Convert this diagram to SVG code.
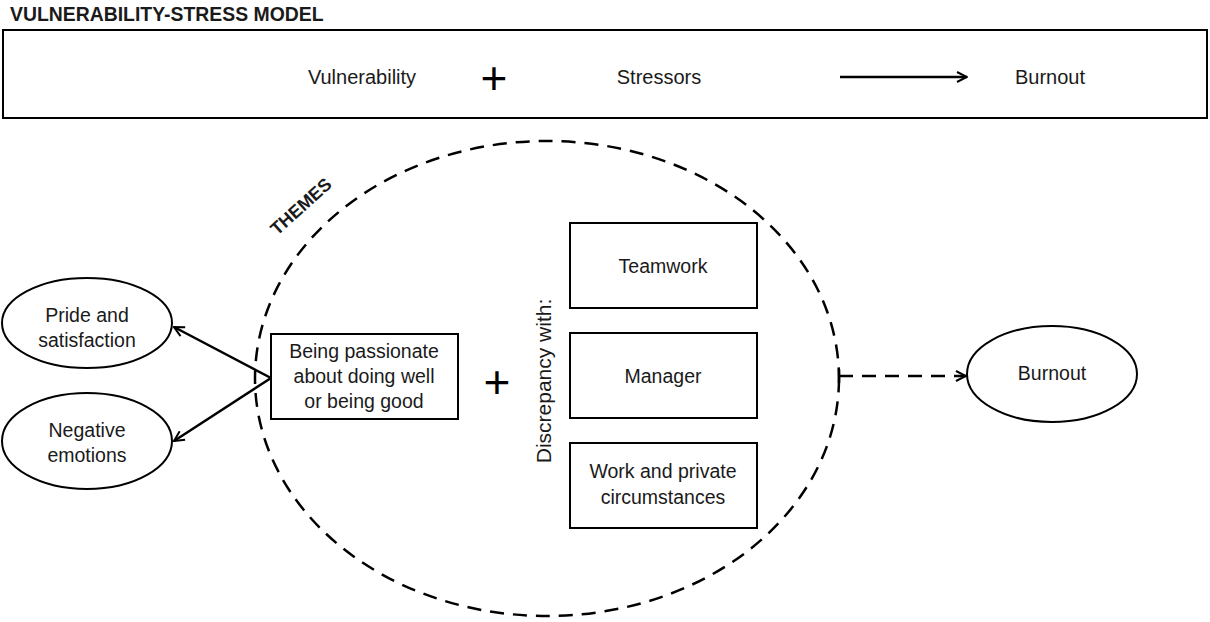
<svg xmlns="http://www.w3.org/2000/svg" width="1210" height="622" viewBox="0 0 1210 622">
  <style>
    text { font-family: "Liberation Sans", Arial, sans-serif; fill: #1a1a1a; }
    .t { font-size: 19.5px; text-anchor: middle; }
    .top { font-size: 20px; text-anchor: middle; }
    .title { font-size: 19.4px; font-weight: bold; }
    .themes { font-size: 18px; font-weight: bold; text-anchor: middle; }
    .vert { font-size: 21px; text-anchor: middle; }
    .plus { font-size: 46px; text-anchor: middle; fill: #000; }
    .box { fill: #fff; stroke: #000; stroke-width: 2; }
    .line { fill: none; stroke: #000; stroke-width: 2.5; }
    .dash { fill: none; stroke: #000; stroke-width: 2.5; stroke-dasharray: 14 9; }
  </style>
  <defs>
    <marker id="chev" viewBox="0 0 12 12" refX="11" refY="6" markerWidth="12" markerHeight="12" markerUnits="userSpaceOnUse" orient="auto">
      <path d="M1,1 L11,6 L1,11" fill="none" stroke="#000" stroke-width="2"/>
    </marker>
  </defs>

  <rect width="1210" height="622" fill="#fff"/>

  <!-- model header -->
  <text x="10" y="21" class="title">VULNERABILITY-STRESS MODEL</text>
  <g id="model">
    <rect x="3" y="30" width="1204" height="88" class="box"/>
    <text x="362" y="84" class="top">Vulnerability</text>
    <text x="494" y="94" class="plus">+</text>
    <text x="659" y="84" class="top">Stressors</text>
    <text x="1050" y="84" class="top">Burnout</text>
  </g>

  <!-- themes circle -->
  <g id="themes">
    <ellipse cx="547" cy="378.5" rx="292" ry="237.5" class="dash"/>
    <text transform="translate(305,211) rotate(-42)" class="themes">THEMES</text>
  </g>

  <g id="pride">
    <ellipse cx="87" cy="323" rx="85" ry="45" class="box"/>
    <text x="87" y="322" class="t">Pride and</text>
    <text x="87" y="347" class="t">satisfaction</text>
  </g>

  <g id="negative">
    <ellipse cx="87" cy="441" rx="85" ry="48" class="box"/>
    <text x="87" y="437" class="t">Negative</text>
    <text x="87" y="462" class="t">emotions</text>
  </g>

  <g id="passion">
    <rect x="271" y="334" width="187" height="85" class="box"/>
    <text x="364" y="358" class="t">Being passionate</text>
    <text x="364" y="383" class="t">about doing well</text>
    <text x="364" y="408" class="t">or being good</text>
  </g>

  <text x="497" y="398" class="plus">+</text>

  <text transform="translate(551,381) rotate(-90)" class="vert">Discrepancy with:</text>

  <g id="teamwork">
    <rect x="570" y="223" width="187" height="85" class="box"/>
    <text x="663" y="273" class="t">Teamwork</text>
  </g>
  <g id="manager">
    <rect x="570" y="333" width="187" height="85" class="box"/>
    <text x="663" y="383" class="t">Manager</text>
  </g>
  <g id="work">
    <rect x="570" y="443" width="187" height="85" class="box"/>
    <text x="663" y="478" class="t">Work and private</text>
    <text x="663" y="504" class="t">circumstances</text>
  </g>

  <g id="burnout">
    <ellipse cx="1052" cy="374" rx="85" ry="48" class="box"/>
    <text x="1052" y="380" class="t">Burnout</text>
  </g>

  <!-- connectors -->
  <g id="connectors">
    <line x1="840" y1="77" x2="967" y2="77" class="line" marker-end="url(#chev)"/>
    <line x1="271" y1="378" x2="174" y2="327" class="line" marker-end="url(#chev)"/>
    <line x1="271" y1="378" x2="174" y2="441" class="line" marker-end="url(#chev)"/>
    <line x1="839" y1="369" x2="839" y2="383" class="line"/>
    <line x1="839" y1="376" x2="966" y2="376" class="dash" stroke-dasharray="14 12" marker-end="url(#chev)"/>
  </g>
</svg>
